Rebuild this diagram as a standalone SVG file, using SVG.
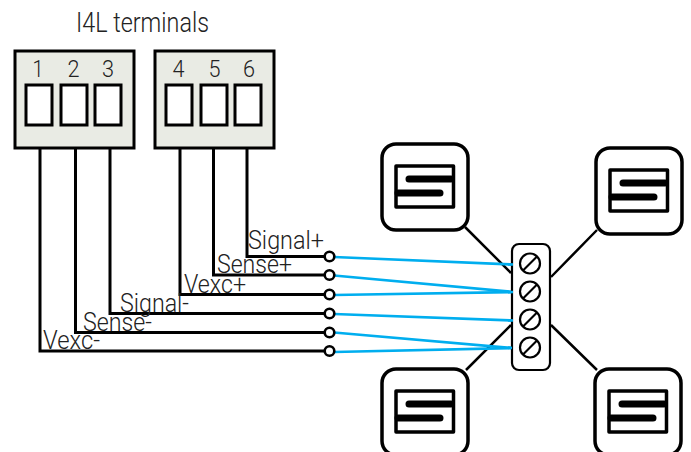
<svg xmlns="http://www.w3.org/2000/svg" width="691" height="452" viewBox="0 0 691 452">
<style>
text{font-family:Roboto,"Liberation Sans",sans-serif;font-weight:300;fill:#222}
.t{font-size:27px}
.n{font-size:24px;text-anchor:middle}
.l{font-size:25px}
.box{fill:#e9ebe4;stroke:#000;stroke-width:3}
.win{fill:#fff;stroke:#000;stroke-width:3}
.w{fill:none;stroke:#000;stroke-width:3}
.b{fill:none;stroke:#00aeef;stroke-width:2.700}
.c{fill:#fff;stroke:#000;stroke-width:2.600}
.s{fill:#fff;stroke:#000;stroke-width:3.500}
.si{fill:#fff;stroke:#000;stroke-width:3.500;stroke-linejoin:round}
.sb{fill:none;stroke:#000;stroke-width:7;stroke-linecap:round}
.j{fill:#fff;stroke:#000;stroke-width:2.200}
.sc{fill:#fff;stroke:#000;stroke-width:2.200}
.sl{stroke:#000;stroke-width:2.200;fill:none}
.lead{stroke:#000;stroke-width:2.500;fill:none}
</style>
<defs>
<g id="sensor">
<rect class="s" x="0" y="0" width="86" height="86" rx="14"/>
<rect class="si" x="14" y="22" width="57.500" height="41"/>
<path class="sb" d="M27 35H69M16 49H58"/>
</g>
<g id="screw">
<circle class="sc" r="10"/>
<path class="sl" d="M-7 7L7 -7"/>
</g>
</defs>
<text class="t" x="76" y="32" textLength="133" lengthAdjust="spacingAndGlyphs">I4L terminals</text>
<g id="connectors">
<path class="lead" d="M465 227L511 273M597 230L551 277M466 370L511 325M597 370L551 325"/>
<g class="w">
<path d="M247 148V256.500H325"/>
<path d="M213.500 148V275H325"/>
<path d="M180 148V294.500H325"/>
<path d="M110 148V313.500H325"/>
<path d="M75.500 148V332.500H325"/>
<path d="M40 148V351H325"/>
</g>
<g class="b">
<path d="M334 257L513 264.500"/>
<path d="M334 275.500L513 292"/>
<path d="M334 295L513 292"/>
<path d="M334 314L513 320.500"/>
<path d="M334 332.500L512 348"/>
<path d="M334 352L512 348"/>
</g>
<g>
<circle class="c" cx="329.500" cy="256.500" r="4.800"/>
<circle class="c" cx="329.500" cy="275" r="4.800"/>
<circle class="c" cx="329.500" cy="294.500" r="4.800"/>
<circle class="c" cx="329.500" cy="313.500" r="4.800"/>
<circle class="c" cx="329.500" cy="332.500" r="4.800"/>
<circle class="c" cx="329.500" cy="351" r="4.800"/>
</g>
</g>
<g id="terminal-a">
<rect class="box" x="15" y="51" width="119" height="97"/>
<rect class="win" x="26" y="85" width="26" height="40"/>
<rect class="win" x="61" y="85" width="26" height="40"/>
<rect class="win" x="95" y="85" width="26" height="40"/>
<text class="n" x="38" y="77" textLength="11" lengthAdjust="spacingAndGlyphs">1</text>
<text class="n" x="73.500" y="77" textLength="12" lengthAdjust="spacingAndGlyphs">2</text>
<text class="n" x="108" y="77" textLength="12" lengthAdjust="spacingAndGlyphs">3</text>
</g>
<g id="terminal-b">
<rect class="box" x="155" y="51" width="119" height="97"/>
<rect class="win" x="166" y="85" width="26" height="40"/>
<rect class="win" x="201" y="85" width="26" height="40"/>
<rect class="win" x="235" y="85" width="26" height="40"/>
<text class="n" x="178.500" y="77" textLength="12" lengthAdjust="spacingAndGlyphs">4</text>
<text class="n" x="214.500" y="77" textLength="12" lengthAdjust="spacingAndGlyphs">5</text>
<text class="n" x="249" y="77" textLength="12" lengthAdjust="spacingAndGlyphs">6</text>
</g>
<g id="labels">
<text class="l" x="248" y="249.300" textLength="76" lengthAdjust="spacingAndGlyphs">Signal+</text>
<text class="l" x="217" y="273" textLength="75" lengthAdjust="spacingAndGlyphs">Sense+</text>
<text class="l" x="184" y="292.500" textLength="62" lengthAdjust="spacingAndGlyphs">Vexc+</text>
<text class="l" x="120" y="311.500" textLength="69" lengthAdjust="spacingAndGlyphs">Signal-</text>
<text class="l" x="83" y="330.500" textLength="69" lengthAdjust="spacingAndGlyphs">Sense-</text>
<text class="l" x="43" y="349.300" textLength="57" lengthAdjust="spacingAndGlyphs">Vexc-</text>
</g>
<g id="sensor-tl"><use href="#sensor" x="382" y="144"/></g>
<g id="sensor-tr"><use href="#sensor" x="596" y="148"/></g>
<g id="sensor-bl"><use href="#sensor" x="382" y="369"/></g>
<g id="sensor-br"><use href="#sensor" x="595" y="369"/></g>
<g id="junction">
<rect class="j" x="512" y="244" width="38" height="126" rx="7"/>
<use href="#screw" x="530" y="263.500"/>
<use href="#screw" x="530" y="291.500"/>
<use href="#screw" x="530" y="319.500"/>
<use href="#screw" x="530" y="347.500"/>
<path class="b" d="M508 264.300L513 264.500M508 292.100L513 292M508 320.300L513 320.500M508 347.600L512 348"/>
</g>
</svg>
